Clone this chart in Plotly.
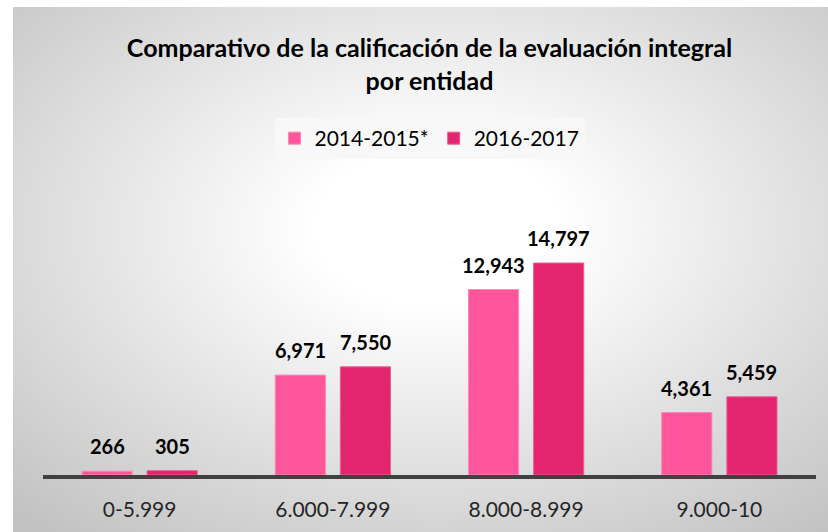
import base64
import plotly.graph_objects as go

categories = ["0-5.999", "6.000-7.999", "8.000-8.999", "9.000-10"]
series_names = ["2014-2015*", "2016-2017"]
values_2014_2015 = [266, 6971, 12943, 4361]
values_2016_2017 = [305, 7550, 14797, 5459]
title_text = "Comparativo de la calificación de la evaluación integral<br>por entidad"

colors = ["#FF559A", "#E3256F"]
edge_colors = ["#FF86B8", "#EE5C93"]

W, H = 828, 532
L, R, T, B = 43, 12, 170, 57
plot_w = W - L - R
plot_h = H - T - B

fig = go.Figure()
for name, vals, c, ec in zip(series_names, [values_2014_2015, values_2016_2017], colors, edge_colors):
    fig.add_trace(go.Bar(
        name=name, x=categories, y=vals,
        marker=dict(color=c, line=dict(color=ec, width=1)),
        hoverinfo="x+y",
    ))

# data labels
slot_px = plot_w / len(categories) * (1 - 0.326) / 2
for i, vals in enumerate([values_2014_2015, values_2016_2017]):
    shift = (i - 0.5) * slot_px
    for cat, v in zip(categories, vals):
        fig.add_annotation(
            x=cat, y=v, xref="x", yref="y", text=f"{v:,}", showarrow=False,
            xanchor="center", yanchor="bottom", xshift=shift, yshift=11,
            font=dict(family="Lato", size=20, color="#000000", weight="bold"),
        )

svg = (
    '<svg xmlns="http://www.w3.org/2000/svg" width="815" height="525" preserveAspectRatio="none">'
    '<defs><radialGradient id="g" cx="0.52" cy="0.42" r="0.75">'
    '<stop offset="0" stop-color="#ffffff"/>'
    '<stop offset="0.2" stop-color="#ffffff"/>'
    '<stop offset="1" stop-color="#c2c2c2"/>'
    '</radialGradient></defs>'
    '<rect x="0" y="0" width="815" height="525" fill="url(#g)"/></svg>'
)
src = "data:image/svg+xml;base64," + base64.b64encode(svg.encode()).decode()

px0, py_top, py_bot = 13, 7, 532
fig.add_layout_image(dict(
    source=src, xref="paper", yref="paper",
    x=(px0 - L) / plot_w, y=(H - B - py_top) / plot_h,
    sizex=(W - px0) / plot_w, sizey=(py_bot - py_top) / plot_h,
    xanchor="left", yanchor="top", sizing="stretch", layer="below",
))

ymax = plot_h * 14797 / 212

fig.update_layout(
    width=W, height=H,
    margin=dict(l=L, r=R, t=T, b=B),
    paper_bgcolor="#ffffff", plot_bgcolor="rgba(0,0,0,0)",
    barmode="group", bargap=0.326, bargroupgap=0.23,
    title=dict(
        text=title_text, x=(L + plot_w / 2) / W, xanchor="center",
        y=1 - 57 / H, yanchor="middle",
        font=dict(family="Lato", size=25, color="#000000", weight="bold"),
    ),
    legend=dict(
        orientation="h", x=0.5, xanchor="center",
        y=(H - B - 118) / plot_h, yanchor="top",
        bgcolor="#f8f8f8", font=dict(family="Lato", size=21, color="#000000"),
        traceorder="normal",
    ),
    showlegend=True,
    xaxis=dict(
        showline=True, linecolor="#404040", linewidth=4, ticks="",
        showgrid=False, zeroline=False,
        tickfont=dict(family="Lato", size=21, color="#262626"),
        ticklabelstandoff=13,
    ),
    yaxis=dict(
        range=[0, ymax], visible=False, showgrid=False, zeroline=False,
    ),
)

fig.write_html(
    "out.html",
    config={"displayModeBar": False},
    post_script="document.body.style.margin='0';document.body.style.padding='0';",
)
